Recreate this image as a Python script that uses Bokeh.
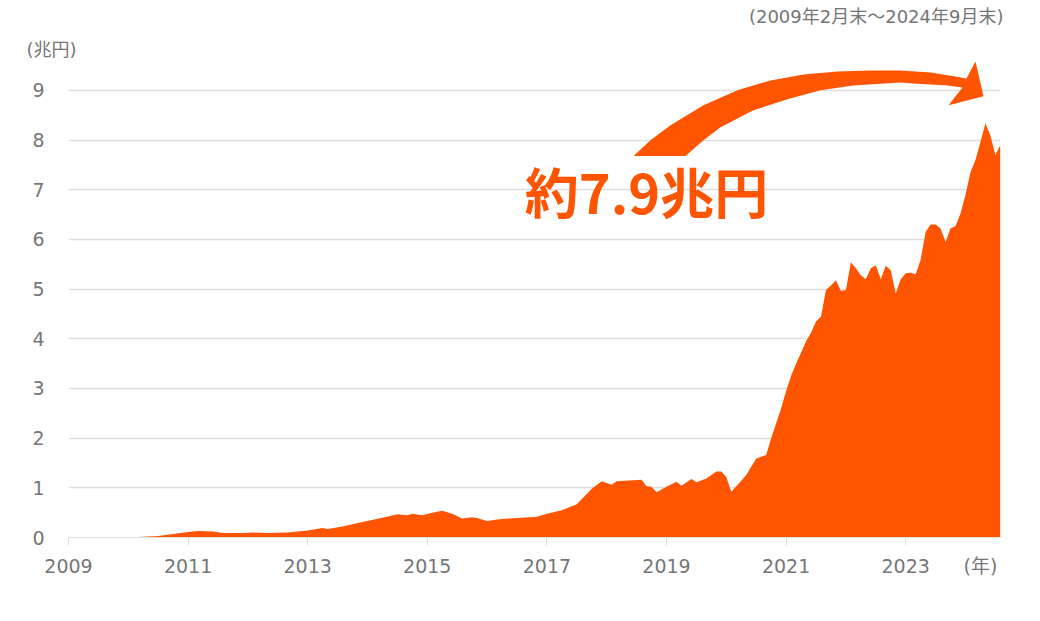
from bokeh.plotting import figure
from bokeh.models import Label, FixedTicker, Range1d, Title
from bokeh.embed import file_html
from bokeh.resources import INLINE

# ---- data (month-end balance, trillion yen) ----
months = ["2009-02", "2010-03", "2010-08", "2010-11", "2011-02", "2011-04", "2011-07", "2011-09",
          "2012-01", "2012-03", "2012-06", "2012-10", "2013-02", "2013-05", "2013-06", "2013-09",
          "2014-01", "2014-05", "2014-08", "2014-10", "2014-11", "2015-01", "2015-03", "2015-05",
          "2015-07", "2015-09", "2015-11", "2015-12", "2016-02", "2016-04", "2016-06", "2016-09",
          "2016-12", "2017-02", "2017-05", "2017-08", "2017-11", "2018-01", "2018-03", "2018-04",
          "2018-09", "2018-10", "2018-11", "2018-12", "2019-02", "2019-04", "2019-05", "2019-07",
          "2019-08", "2019-10", "2019-12", "2020-01", "2020-02", "2020-03", "2020-05", "2020-06",
          "2020-08", "2020-10", "2020-11", "2020-12", "2021-01", "2021-02", "2021-03", "2021-04",
          "2021-05", "2021-06", "2021-07", "2021-08", "2021-09", "2021-10", "2021-11", "2021-12",
          "2022-01", "2022-02", "2022-03", "2022-04", "2022-05", "2022-06", "2022-07", "2022-08",
          "2022-09", "2022-10", "2022-11", "2022-12", "2023-01", "2023-02", "2023-03", "2023-04",
          "2023-05", "2023-06", "2023-07", "2023-08", "2023-09", "2023-10", "2023-11", "2023-12",
          "2024-01", "2024-02", "2024-03", "2024-04", "2024-05", "2024-06", "2024-07", "2024-08",
          "2024-09"]
balance = [0.00, 0.005, 0.03, 0.07, 0.11, 0.13, 0.12, 0.09,
           0.09, 0.10, 0.09, 0.10, 0.14, 0.19, 0.17, 0.22,
           0.31, 0.40, 0.47, 0.45, 0.48, 0.45, 0.50, 0.54,
           0.48, 0.38, 0.41, 0.39, 0.33, 0.36, 0.38, 0.40,
           0.42, 0.48, 0.55, 0.67, 0.98, 1.13, 1.06, 1.13,
           1.16, 1.03, 1.02, 0.91, 1.02, 1.12, 1.04, 1.18,
           1.11, 1.19, 1.33, 1.33, 1.22, 0.92, 1.14, 1.26,
           1.59, 1.66, 2.00, 2.30, 2.60, 2.95, 3.25, 3.50,
           3.72, 3.95, 4.12, 4.35, 4.45, 4.98, 5.07, 5.18,
           4.96, 4.98, 5.54, 5.42, 5.28, 5.20, 5.42, 5.48,
           5.20, 5.47, 5.38, 4.91, 5.20, 5.32, 5.33, 5.30,
           5.59, 6.15, 6.30, 6.30, 6.22, 5.95, 6.22, 6.27,
           6.52, 6.90, 7.35, 7.60, 7.96, 8.34, 8.09, 7.70,
           7.90]
year_ticks = [2009, 2011, 2013, 2015, 2017, 2019, 2021, 2023]
y_ticks = [0, 1, 2, 3, 4, 5, 6, 7, 8, 9]
unit_label = "(兆円)"
period_label = "(2009年2月末～2024年9月末)"
year_label = "(年)"
year_label_pos = 2024.25
callout = "約7.9兆円"

ORANGE = "#ff5500"
GRAY = "#767676"
GRID = "#dedede"
FONT = "'DejaVu Sans', 'Noto Sans CJK JP'"


def to_x(s):
    y, m = s.split("-")
    return int(y) + (int(m) - 2) / 12.0


xs = [to_x(m) for m in months]

SHIFT = 6                      # canvas is pulled up by this many pixels
W, H = 1030, 616
BL, BR, BT, BB = 68, 30, 63, 73
FW, FH = W - BL - BR, H - BT - BB
PX_PER_YEAR, PX_PER_UNIT = 59.8, 49.89
X0, X1 = 2009.0, 2009.0 + FW / PX_PER_YEAR
Y0, Y1 = 0.0, FH / PX_PER_UNIT


# layout helpers: page pixel -> data coordinates (for decorations only)
def px(xp):
    return X0 + (xp - BL) / FW * (X1 - X0)


def py(yp):
    return Y0 + (BT + FH - (yp + SHIFT)) / FH * (Y1 - Y0)


p = figure(width=W, height=H, output_backend="svg", toolbar_location=None,
           x_range=Range1d(X0, X1), y_range=Range1d(Y0, Y1),
           min_border_left=BL, min_border_right=BR, min_border_top=BT, min_border_bottom=BB,
           margin=(-SHIFT, 0, 0, 0))
p.outline_line_color = None
p.background_fill_color = "white"
p.border_fill_color = "white"

p.varea(x=xs, y1=0, y2=balance, fill_color=ORANGE, fill_alpha=1.0)

# x axis: year labels (+ the "(年)" unit as an extra label without tick mark)
p.xaxis.ticker = FixedTicker(ticks=year_ticks + [year_label_pos], minor_ticks=year_ticks)
p.xaxis.major_label_overrides = {year_label_pos: year_label}
p.xaxis.axis_line_color = GRID
p.xaxis.major_tick_line_color = None
p.xaxis.major_tick_in = 0
p.xaxis.major_tick_out = 8
p.xaxis.minor_tick_line_color = GRID
p.xaxis.minor_tick_in = 0
p.xaxis.minor_tick_out = 8
p.xaxis.major_label_standoff = 9
p.xaxis.major_label_text_font_size = "19px"
p.xaxis.major_label_text_color = GRAY
p.xaxis.major_label_text_font = FONT

p.yaxis.ticker = FixedTicker(ticks=y_ticks)
p.yaxis.axis_line_color = None
p.yaxis.major_tick_line_color = None
p.yaxis.minor_tick_line_color = None
p.yaxis.major_tick_out = 0
p.yaxis.major_tick_in = 0
p.yaxis.major_label_standoff = 24
p.yaxis.major_label_text_font_size = "19px"
p.yaxis.major_label_text_color = GRAY
p.yaxis.major_label_text_font = "DejaVu Sans"

p.xgrid.grid_line_color = None
p.ygrid.ticker = FixedTicker(ticks=y_ticks)
p.ygrid.grid_line_color = GRID
p.ygrid.grid_line_width = 1.3

# titles above the frame: unit (nearest) and period
p.add_layout(Title(text=unit_label, align="left", offset=-42, standoff=0,
                   text_font=FONT, text_font_size="18px", text_font_style="normal",
                   text_color=GRAY), "above")
p.add_layout(Title(text=period_label, align="right", offset=-3, standoff=19,
                   text_font=FONT, text_font_size="18px", text_font_style="normal",
                   text_color=GRAY), "above")

# curved arrow (decoration), outline given in page pixels
upper = [(633, 154), (650, 138), (670, 123), (703, 103), (737, 88), (770, 78), (803, 72),
         (837, 69), (870, 68), (900, 68), (930, 70), (955, 74), (966, 76)]
head = [(975, 59), (983, 94), (948, 103)]
lower = [(962, 85), (947, 83), (913, 81), (900, 80), (853, 83), (820, 88), (787, 97),
         (753, 108), (720, 125), (703, 138), (685, 154)]
outline = upper + head + lower
p.patch([px(a) for a, b in outline], [py(b) for a, b in outline],
        fill_color=ORANGE, line_color=None)

# callout text
p.add_layout(Label(x=px(646), y=py(189), text=callout, text_align="center",
                   text_baseline="middle", text_font="'Noto Sans CJK JP'",
                   text_font_style="bold", text_font_size="54px", text_color=ORANGE))

open("out.html", "w").write(file_html(p, INLINE))
